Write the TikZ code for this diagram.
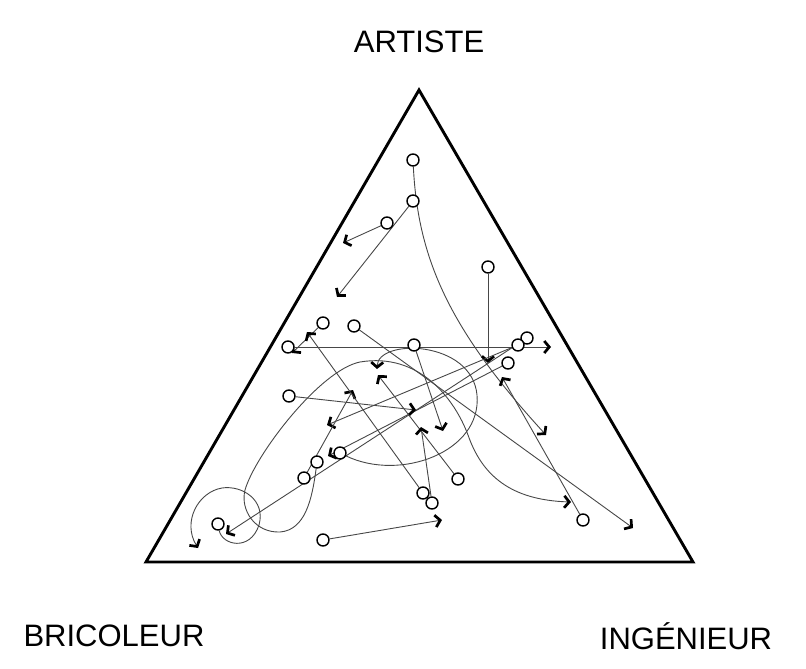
\documentclass[tikz,border=0pt]{standalone}
\usepackage{fontspec}
\setmainfont{Liberation Sans}
\usetikzlibrary{arrows.meta}
\pgfdeclarelayer{background}
\pgfsetlayers{background,main}
\begin{document}
\begin{tikzpicture}[x=1pt,y=-1pt,
  traj/.style={draw=black!72, line width=0.9pt, -{Straight Barb[length=5pt,width=12pt,line width=2.7pt,color=black]}},
  dot/.style={circle, draw=black, line width=1.4pt, fill=white, minimum size=12pt, inner sep=0pt},
  tri/.style={draw=black, line width=2.9pt, line join=miter},
  lbl/.style={font=\fontsize{31}{34}\selectfont, inner sep=0pt}]
\useasboundingbox (0,0) rectangle (806,669);
% triangle
\coordinate (A) at (419,90);
\coordinate (B) at (146,562);
\coordinate (C) at (693,562);
\draw[tri] (A) -- (B) -- (C) -- cycle;
% labels
\node[lbl] (artiste) at (419,42) {ARTISTE};
\node[lbl] (bricoleur) at (114,636) {BRICOLEUR};
\node[lbl] (ingenieur) at (686,636) {INGÉNIEUR};
% start points
\node[dot] (c1) at (413,160) {};
\node[dot] (c2) at (413,201) {};
\node[dot] (c3) at (387,223) {};
\node[dot] (c4) at (488,267) {};
\node[dot] (c5) at (323,323) {};
\node[dot] (c6) at (354,326) {};
\node[dot] (c7) at (288,347) {};
\node[dot] (c8) at (414,345) {};
\node[dot] (c9) at (527,338) {};
\node[dot] (c10) at (518,345) {};
\node[dot] (c11) at (508,363) {};
\node[dot] (c12) at (289,396) {};
\node[dot] (c13) at (340,453) {};
\node[dot] (c14) at (317,462) {};
\node[dot] (c15) at (304,478) {};
\node[dot] (c16) at (458,479) {};
\node[dot] (c17) at (423,493) {};
\node[dot] (c18) at (432,503) {};
\node[dot] (c19) at (583,520) {};
\node[dot] (c20) at (218,524) {};
\node[dot] (c21) at (323,540) {};
% end points
\coordinate (e1) at (546,435);
\coordinate (e2) at (337,297);
\coordinate (e3) at (343,243);
\coordinate (e4) at (488,363);
\coordinate (e5) at (292,353);
\coordinate (e6) at (633,528);
\coordinate (e7) at (551,347);
\coordinate (e8) at (443,431);
\coordinate (e9) at (226,534);
\coordinate (e10) at (327,425);
\coordinate (e11) at (328,456);
\coordinate (e12) at (416,410);
\coordinate (e13) at (377,369);
\coordinate (e14) at (571,502);
\coordinate (e15) at (353,390);
\coordinate (e16) at (378,375);
\coordinate (e17) at (307,332);
\coordinate (e18) at (421,427);
\coordinate (e19) at (502,377);
\coordinate (e20) at (198,548);
\coordinate (e21) at (442,520);
\begin{pgfonlayer}{background}
\draw[traj] (c1) .. controls (418,260) and (450,330) .. (e1);
\draw[traj] (c2) -- (e2);
\draw[traj] (c3) -- (e3);
\draw[traj] (c4) -- (e4);
\draw[traj] (c5) -- (e5);
\draw[traj] (c6) -- (e6);
\draw[traj] (c7) -- (e7);
\draw[traj] (c8) -- (e8);
\draw[traj] (c9) -- (e9);
\draw[traj] (c10) -- (e10);
\draw[traj] (c11) -- (e11);
\draw[traj] (c12) -- (e12);
\draw[traj] (c13) .. controls (400,482) and (482,452) .. (477,395)
  .. controls (472,340) and (378,338) .. (e13);
\draw[traj] (c14) .. controls (312,500) and (305,530) .. (280,532)
  .. controls (255,533) and (240,510) .. (245,490)
  .. controls (255,455) and (320,370) .. (360,362)
  .. controls (420,352) and (455,400) .. (468,435)
  .. controls (482,475) and (510,500) .. (e14);
\draw[traj] (c15) -- (e15);
\draw[traj] (c16) -- (e16);
\draw[traj] (c17) -- (e17);
\draw[traj] (c18) -- (e18);
\draw[traj] (c19) -- (e19);
\draw[traj] (c20) .. controls (222,545) and (250,552) .. (259,525)
  .. controls (266,500) and (242,485) .. (222,488)
  .. controls (198,492) and (182,522) .. (e20);
\draw[traj] (c21) -- (e21);
\end{pgfonlayer}
\end{tikzpicture}
\end{document}
